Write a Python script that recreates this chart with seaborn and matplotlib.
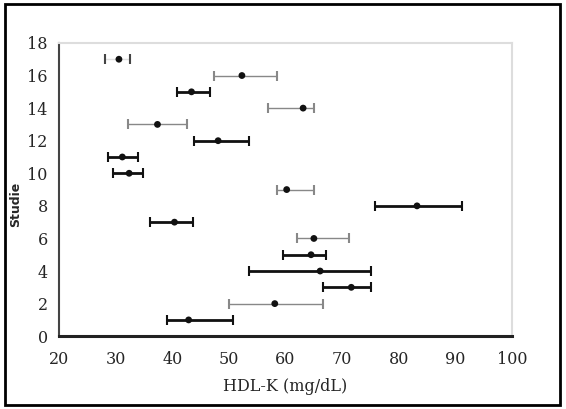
import numpy as np
import pandas as pd
import matplotlib
matplotlib.use("Agg")
import matplotlib.pyplot as plt
from matplotlib.patches import Rectangle
import seaborn as sns

# study number, HDL-K mean and interval
study = [1, 2, 3, 4, 5, 6, 7, 8, 9, 10, 11, 12, 13, 14, 15, 16, 17]
hdl = [42.9, 58.1, 71.6, 66.1, 64.5, 65.0, 40.4, 83.2, 60.2, 32.4, 31.2, 48.1, 37.4, 63.1, 43.4, 52.3, 30.6]
low = [39.1, 50.0, 66.6, 53.5, 59.6, 62.1, 36.1, 75.7, 58.5, 29.5, 28.6, 43.9, 32.2, 56.9, 40.9, 47.4, 28.1]
high = [50.8, 66.6, 75.0, 75.0, 67.1, 71.2, 43.6, 91.1, 65.0, 34.9, 33.9, 53.6, 42.6, 65.1, 46.6, 58.5, 32.6]
shade = ["dark", "light", "dark", "dark", "dark", "light", "dark", "dark", "light", "dark",
         "dark", "dark", "light", "light", "dark", "light", "faint"]

df = pd.DataFrame({"study": study, "hdl": hdl, "low": low, "high": high, "shade": shade})

sns.set_theme(style="white")
plt.rcParams["font.family"] = ["DejaVu Serif"]

fig = plt.figure(figsize=(5.66, 4.09), dpi=100)
ax = fig.add_axes([0.104, 0.178, 0.801, 0.717])

line_col = {"dark": "#111111", "light": "#888888", "faint": "#e0e0e0"}
line_w = {"dark": 2.0, "light": 1.0, "faint": 1.0}
for _, r in df.iterrows():
    ax.errorbar(r["hdl"], r["study"],
                xerr=[[r["hdl"] - r["low"]], [r["high"] - r["hdl"]]],
                fmt="none", ecolor=line_col[r["shade"]], elinewidth=line_w[r["shade"]],
                capsize=3.5, capthick=1.5)
    if r["shade"] == "faint":
        ax.plot([r["low"], r["high"]], [r["study"], r["study"]], "|", color="#444444", ms=7, mew=1.5)

sns.scatterplot(data=df, x="hdl", y="study", color="#111111", s=24, edgecolor="none", ax=ax, zorder=5)

ax.set_xlim(20, 100)
ax.set_ylim(0, 18)
ax.set_xticks(range(20, 101, 10))
ax.set_yticks(range(0, 19, 2))
ax.tick_params(axis="both", labelsize=11.5, length=3, direction="out", color="#333333", pad=5)
ax.tick_params(axis="x", pad=8)
ax.set_xlabel("HDL-K (mg/dL)", fontsize=11.5, labelpad=7)
ax.set_ylabel("")
fig.text(0.028, 0.50, "Studie", rotation=90, fontsize=9, fontweight="bold",
         family="DejaVu Sans", ha="center", va="center")

for s in ["top", "right"]:
    ax.spines[s].set_color("#dddddd")
    ax.spines[s].set_linewidth(1.5)
ax.spines["left"].set_color("#444444")
ax.spines["left"].set_linewidth(1.5)
ax.spines["bottom"].set_color("#222222")
ax.spines["bottom"].set_linewidth(2.2)

fig.patches.append(Rectangle((0.009, 0.01), 0.98, 0.98, transform=fig.transFigure,
                             fill=False, edgecolor="black", linewidth=2))

fig.savefig("out.png", dpi=100)
